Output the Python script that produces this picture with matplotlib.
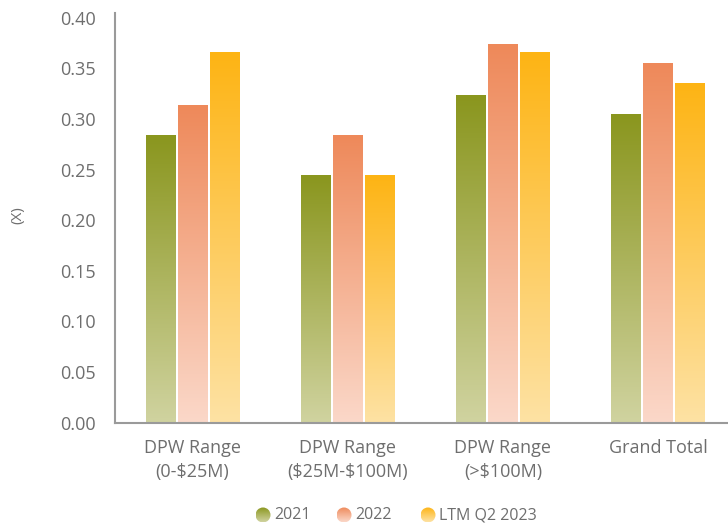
import numpy as np
import matplotlib.pyplot as plt
from matplotlib.colors import LinearSegmentedColormap
from matplotlib.patches import Circle

plt.rcParams['font.family'] = ['Open Sans', 'DejaVu Sans']

categories = ['DPW Range\n(0-\\$25M)', 'DPW Range\n(\\$25M-\\$100M)',
              'DPW Range\n(>\\$100M)', 'Grand Total']
series = ['2021', '2022', 'LTM Q2 2023']
vals_2021 = [0.284, 0.244, 0.324, 0.305]
vals_2022 = [0.314, 0.284, 0.374, 0.355]
vals_ltm = [0.366, 0.244, 0.366, 0.335]

# (top colour, bottom colour) for each series
colors = [('#8a961e', '#d0d3a0'),
          ('#ee895a', '#fbd8c9'),
          ('#fdb414', '#fee2a4')]

text_color = '#6e6e6e'
axis_color = '#9a9a9a'

fig = plt.figure(figsize=(7.28, 5.25), dpi=100)
ax = fig.add_axes([115 / 728, 1 - 422.6 / 525, 613 / 728, 410 / 525])

x = np.arange(len(categories))
width = 0.19
step = 0.206
grad = np.linspace(0, 1, 256).reshape(-1, 1)
cmaps = [LinearSegmentedColormap.from_list(s, [bottom, top])
         for s, (top, bottom) in zip(series, colors)]

for i, vals in enumerate([vals_2021, vals_2022, vals_ltm]):
    for xi, v in zip(x, vals):
        left = xi + (i - 1) * step - width / 2
        # gradient fill, dark at the top of the bar
        ax.imshow(grad, extent=(left, left + width, 0, v), origin='lower',
                  cmap=cmaps[i], aspect='auto', interpolation='bicubic', zorder=2)

ax.set_xlim(-0.5, 3.45)
ax.set_ylim(0, 0.405)
yt = np.arange(0, 0.41, 0.05)
ax.set_yticks(yt)
ax.set_yticklabels([f'{t:.2f}' for t in yt])
ax.set_xticks(x)
ax.set_xticklabels(categories)

ax.tick_params(axis='both', length=0, labelsize=13, colors=text_color)
ax.tick_params(axis='x', pad=12)
ax.tick_params(axis='y', pad=14)
for lbl in ax.get_xticklabels():
    lbl.set_linespacing(1.4)

for s in ['top', 'right']:
    ax.spines[s].set_visible(False)
for s in ['left', 'bottom']:
    ax.spines[s].set_color(axis_color)
    ax.spines[s].set_linewidth(1.5)

fig.text(18 / 728, 1 - 215 / 525, '(X)', rotation=90, ha='center', va='center',
         fontsize=11, color=text_color)

# legend drawn in pixel coordinates with gradient circles
lg = fig.add_axes([0, 0, 1, 1], zorder=5)
lg.axis('off')
marker_x = [263, 344, 428]
for mx, cmap, name in zip(marker_x, cmaps, series):
    r = 7.5
    circ = Circle((mx, 515), r, transform=lg.transData, facecolor='none',
                  edgecolor='none')
    lg.add_patch(circ)
    im = lg.imshow(grad[::-1], extent=(mx - r, mx + r, 515 + r, 515 - r),
                   cmap=cmap, aspect='auto', interpolation='bicubic')
    im.set_clip_path(circ)
    lg.text(mx + 11, 515, name, ha='left', va='center', fontsize=11.5,
            color=text_color)
lg.set_xlim(0, 728)
lg.set_ylim(525, 0)

fig.savefig('out.png', dpi=100)
